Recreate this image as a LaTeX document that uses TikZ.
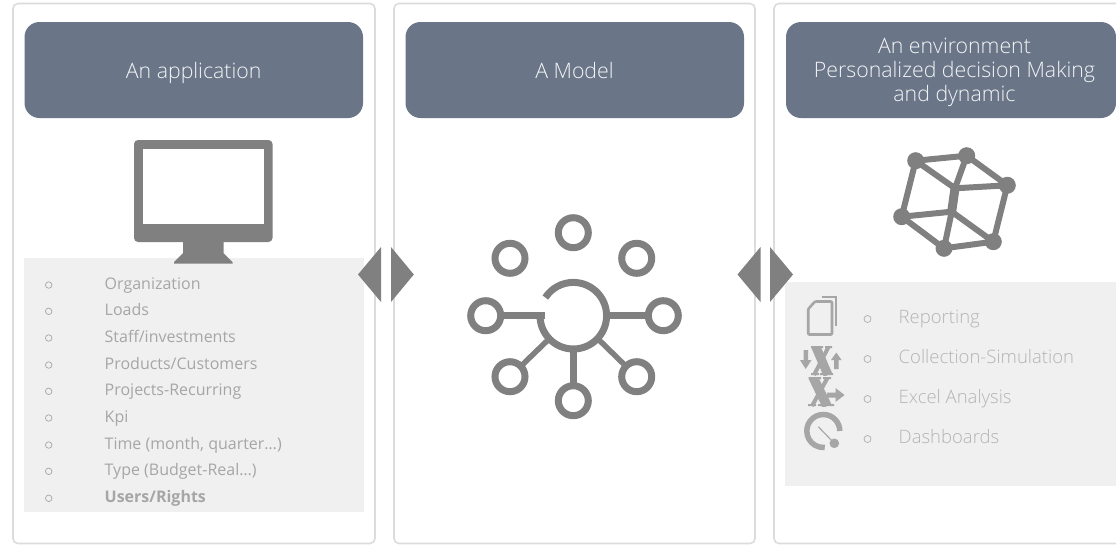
\documentclass[tikz,border=0pt]{standalone}
\usepackage{fontspec}
\setmainfont{Open Sans}
\newfontfamily\oslight{Open Sans Light}
\definecolor{hdr}{HTML}{6A7688}
\definecolor{pbord}{HTML}{DCDCDC}
\definecolor{lgray}{HTML}{F0F0F0}
\definecolor{icon}{HTML}{808080}
\definecolor{licon}{HTML}{A6A6A6}
\definecolor{ltxt}{HTML}{A6A6A6}
\definecolor{rtxt}{HTML}{B4B4B4}
\tikzset{
  panelbox/.style={draw=pbord,line width=1.6pt,rounded corners=5pt,fill=white,anchor=north west,inner sep=0,outer sep=0},
  hdrbox/.style={fill=hdr,rounded corners=15pt,anchor=north west,inner sep=0,outer sep=0,minimum height=96pt},
  hdrtxt/.style={text=white!92!hdr,font=\oslight\fontsize{21.3}{24}\selectfont,align=center,inner sep=0},
  graybox/.style={fill=lgray,anchor=north west,inner sep=0,outer sep=0},
  litem/.style={anchor=base west,inner sep=0,text=ltxt,font=\fontsize{16}{18}\selectfont},
  ritem/.style={anchor=base west,inner sep=0,text=rtxt,font=\oslight\fontsize{18.5}{20}\selectfont},
  lbul/.style={circle,draw=ltxt,line width=0.7pt,minimum size=6.5pt,inner sep=0},
  rbul/.style={circle,draw=rtxt,line width=0.8pt,minimum size=7pt,inner sep=0},
  arrowtri/.style={fill=icon,draw=none},
  hub/.style={circle,draw=icon,line width=7pt,minimum size=30pt,inner sep=0,outer sep=0},
  spoke/.style={draw=icon,line width=7pt},
  vert/.style={circle,fill=icon,minimum size=17pt,inner sep=0,outer sep=0},
  cubeedge/.style={draw=icon,line width=6pt},
}
\begin{document}
\begin{tikzpicture}[x=1pt,y=-1pt]
\useasboundingbox (0,0) rectangle (1116,544);
\clip (0,0) rectangle (1116,544);
\fill[white] (0,0) rectangle (1116,544);
% panels
\node[panelbox,minimum width=362pt,minimum height=540pt] (p1) at (13,3.5) {};
\node[panelbox,minimum width=361pt,minimum height=540pt] (p2) at (394,3.5) {};
\node[panelbox,minimum width=380pt,minimum height=540pt] (p3) at (774,3.5) {};
% headers
\node[hdrbox,minimum width=338.5pt] (h1) at (24.5,22) {};
\node[hdrbox,minimum width=338.5pt] (h2) at (405.5,22) {};
\node[hdrbox,minimum width=330pt] (h3) at (786,22) {};
\node[hdrtxt,anchor=base] (t1) at (193.7,78.3) {An application};
\node[hdrtxt,anchor=base] (t2) at (574.5,78.3) {A Model};
\node[hdrtxt] (t3) at (954.5,72) {An environment\\Personalized decision Making\\and dynamic};
% gray boxes
\node[graybox,minimum width=340pt,minimum height=253.6pt] (g1) at (24,258) {};
\node[graybox,minimum width=332pt,minimum height=204pt] (g3) at (784.5,282) {};
% monitor
\fill[icon,rounded corners=4pt] (134,140) rectangle (272.5,242);
\fill[white] (143,149) rectangle (264,224);
\fill[icon] (183,238) -- (223.5,238) -- (223.5,253) -- (232.5,262) -- (232.5,263.5) -- (174,263.5) -- (174,262) -- (183,253) -- cycle;
% left list
\foreach \n/\yy/\by/\t in {a/289.3/285/Organization,b/315.3/311.3/Loads,c/342.3/338/Staff\slash investments,d/369/365/Products\slash Customers,e/395.3/391.3/Projects-Recurring,f/422.3/418/Kpi,g/449/445/{Time (month, quarter…)},h/475.7/471.3/{Type (Budget-Real…)}}{
  \node[lbul] (lb\n) at (48.7,\by) {};
  \node[litem] (lt\n) at (104.5,\yy) {\t};
}
\node[lbul] (lbi) at (48.7,498.3) {};
\node[litem,font=\fontsize{16}{18}\selectfont\bfseries] (lti) at (104.5,502.3) {Users/Rights};
% right list
\foreach \n/\yy/\by/\t in {a/323.3/319/Reporting,b/363.3/359/Collection-Simulation,c/403.3/399/Excel Analysis,d/443.3/439/Dashboards}{
  \node[rbul] (rb\n) at (867.5,\by) {};
  \node[ritem] (rt\n) at (898.5,\yy) {\t};
}
% double arrows
\fill[arrowtri] (358,274.5) -- (381,247) -- (381,302) -- cycle;
\fill[arrowtri] (413.8,274.5) -- (391,247) -- (391,302) -- cycle;
\fill[arrowtri] (737.5,274.5) -- (760.5,247) -- (760.5,302) -- cycle;
\fill[arrowtri] (793,274.5) -- (770,247) -- (770,302) -- cycle;
% network icon
\draw[spoke] (540,315.7) arc[start angle=180,end angle=-147,radius=33.3];
\node[hub] (n1) at (573.3,232.7) {};
\node[hub] (n2) at (510,258.3) {};
\node[hub] (n3) at (636.7,258.3) {};
\node[hub] (n4) at (485.7,315.7) {};
\node[hub] (n5) at (663.3,315.7) {};
\node[hub] (n6) at (510,376.7) {};
\node[hub] (n7) at (636.7,376.7) {};
\node[hub] (n8) at (573.3,400.7) {};
\coordinate (sl) at (544.5,315.7);
\coordinate (sr) at (606,315.7);
\coordinate (sb) at (573.3,347);
\coordinate (sdl) at (550,338);
\coordinate (sdr) at (597,338);
\draw[spoke] (n4) -- (sl);
\draw[spoke] (n5) -- (sr);
\draw[spoke] (n8) -- (sb);
\draw[spoke,line width=5.5pt] (n6) -- (sdl);
\draw[spoke,line width=5.5pt] (n7) -- (sdr);
% cube icon
\node[vert] (A) at (915.7,160.7) {};
\node[vert] (B) at (966.7,155.7) {};
\node[vert] (C) at (1007.3,185.3) {};
\node[vert] (D) at (901.7,216.7) {};
\node[vert,minimum size=9pt] (E) at (951.7,211.7) {};
\node[vert,minimum size=9pt] (F) at (955,188.3) {};
\node[vert] (G) at (944,248.3) {};
\node[vert] (H) at (993.3,241.7) {};
\draw[cubeedge] (A.center)--(B.center) (B.center)--(C.center) (C.center)--(H.center) (H.center)--(G.center) (G.center)--(D.center) (D.center)--(A.center) (A.center)--(F.center) (F.center)--(C.center) (B.center)--(F.center) (D.center)--(E.center) (E.center)--(H.center) (E.center)--(G.center);
\draw[cubeedge,line width=9pt] (F.center)--(E.center);
% doc icon
\draw[licon,line width=2.6pt,line join=round,rounded corners=1pt] (815,301.5) -- (832,301.5) -- (832,334.5) -- (808.2,334.5) -- (808.2,309) -- cycle;
\draw[licon,line width=2pt] (821.5,296.5) -- (836.2,296.5) -- (836.2,326);
% X icon 1
\begin{scope}
\clip (810.5,346) rectangle (833,375);
\draw[licon,line width=9pt] (815.5,346) -- (828,375);
\draw[licon,line width=4pt] (829,346) -- (814,375);
\end{scope}
\fill[licon] (811,346) rectangle (823,348) (825,346) rectangle (832,348) (811,373) rectangle (819,375) (820,373) rectangle (833,375);
% X icon 2
\begin{scope}
\clip (808,377) rectangle (834,406);
\draw[licon,line width=9.5pt] (813,377) -- (827,406);
\draw[licon,line width=4pt] (828,377) -- (812,406);
\end{scope}
\fill[licon] (808.5,377) rectangle (821,379) (823,377) rectangle (831,379) (808,404) rectangle (816,406) (818,404) rectangle (834,406);
% arrows by the X icons
\fill[licon] (803.5,350) -- (808,350) -- (808,360) -- (811.5,360) -- (805.7,369) -- (800,360) -- (803.5,360) -- cycle;
\fill[licon] (834,369) -- (838.5,369) -- (838.5,360) -- (841.5,360) -- (836.3,352.5) -- (831,360) -- (834,360) -- cycle;
\fill[licon] (827,392.5) -- (835.5,392.5) -- (835.5,388) -- (844.5,395) -- (835.5,402) -- (835.5,397.5) -- (827,397.5) -- cycle;
% gauge icon
\draw[licon,line width=5.5pt] (839.8,431) arc[start angle=0,end angle=-275,radius=16.5];
\fill[licon] (834.3,443.3) circle[radius=4.8];
\draw[licon,line width=1.1pt] (818.3,426.7) -- (834.3,443.3);
\end{tikzpicture}
\end{document}
